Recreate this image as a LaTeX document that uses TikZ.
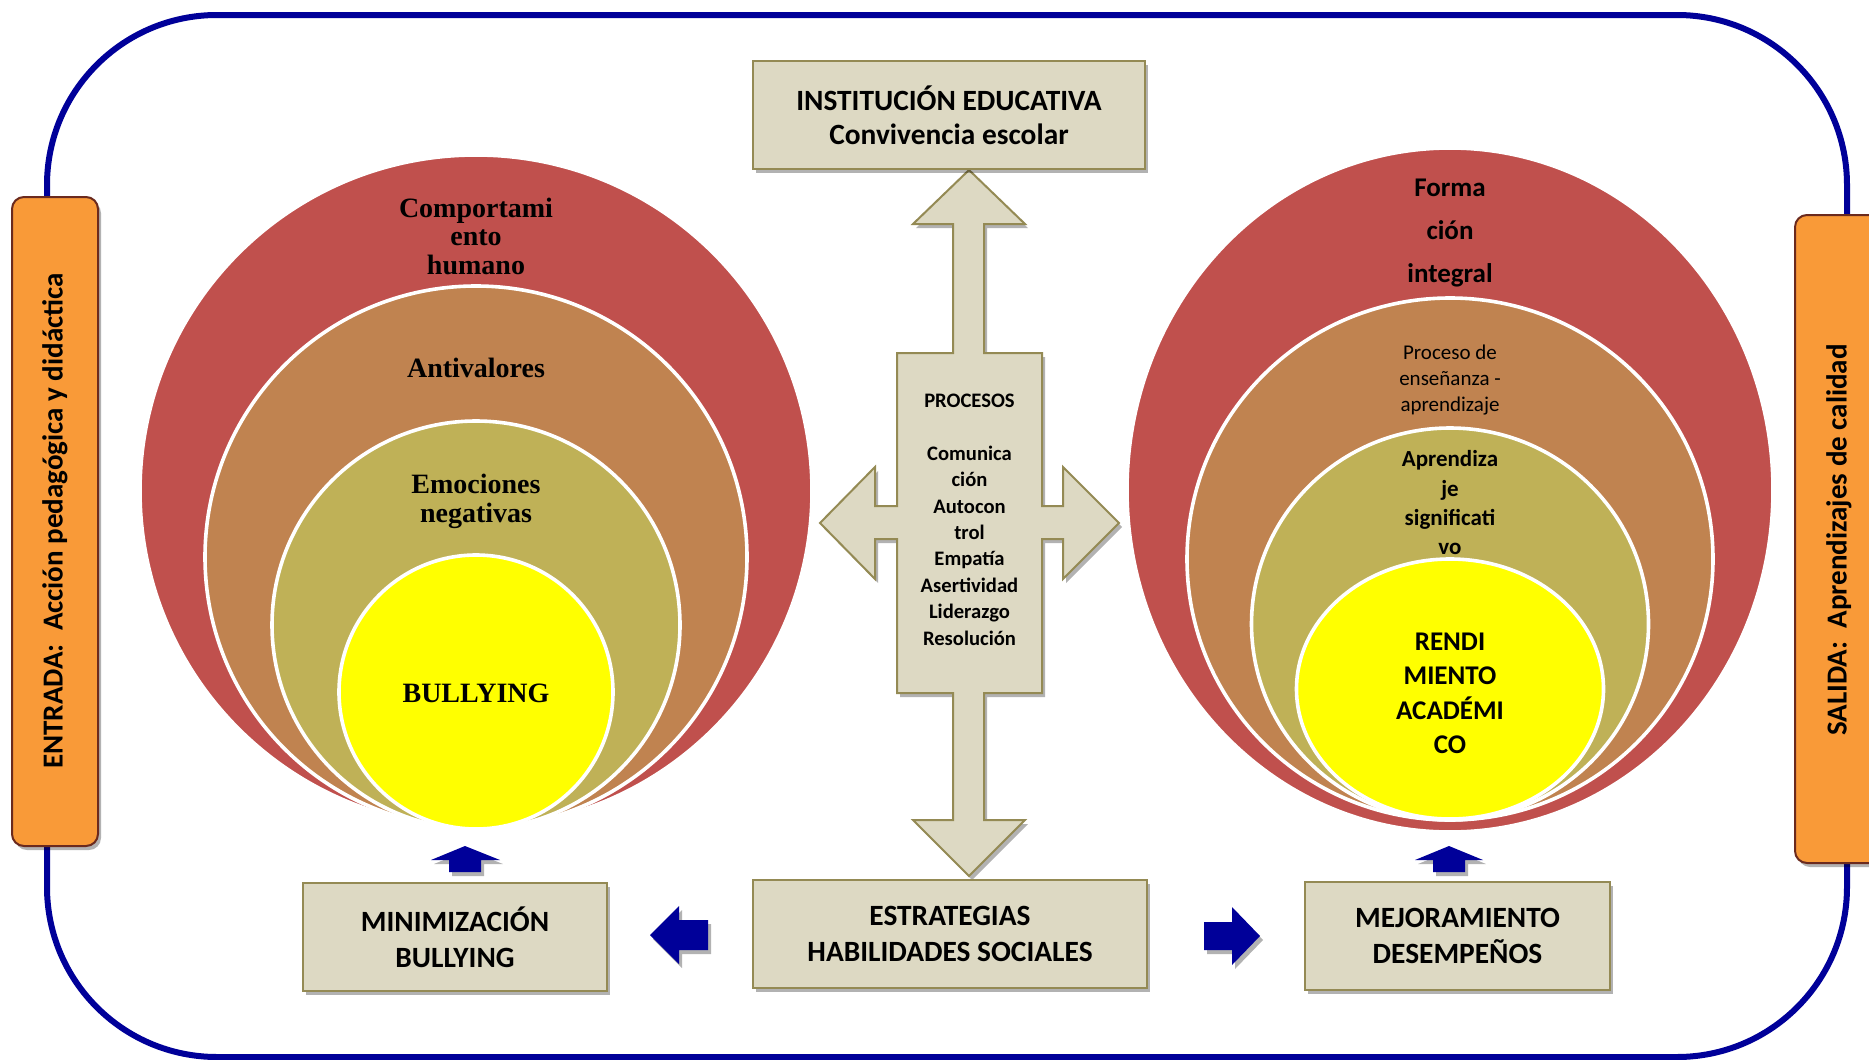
\documentclass[tikz,border=0pt]{standalone}
\usepackage{fontspec}
\setmainfont{Carlito}
\newfontfamily\serifb{Liberation Serif}
\usetikzlibrary{shadows}
\definecolor{framecol}{HTML}{000099}
\definecolor{orangefill}{HTML}{F99A38}
\definecolor{orangedraw}{HTML}{6B2A1E}
\definecolor{tanfill}{HTML}{DDD9C3}
\definecolor{tandraw}{HTML}{948A54}
\definecolor{redc}{HTML}{C0504D}
\definecolor{brownc}{HTML}{C08350}
\definecolor{olivec}{HTML}{BFB157}
\definecolor{yellowc}{HTML}{FFFF00}
\begin{document}
\begin{tikzpicture}[x=0.5pt,y=-0.5pt,
  softshadow/.style={drop shadow={shadow xshift=1.5pt,shadow yshift=-2pt,opacity=0.3,fill=black}},
  tanbox/.style={draw=tandraw,fill=tanfill,line width=1pt,softshadow,align=center,inner sep=0pt,
    font=\fontsize{14.7}{18}\selectfont\bfseries},
  sidebox/.style={draw=orangedraw,fill=orangefill,line width=1pt,rounded corners=6pt,softshadow},
  sidetext/.style={rotate=90,font=\fontsize{14.5}{16}\selectfont\bfseries},
  ring/.style={draw=white,line width=1.8pt},
  sertext/.style={align=center,font=\serifb\bfseries\fontsize{14}{14.3}\selectfont},
  blockarrow/.style={fill=framecol,softshadow},
  crossshape/.style={draw=tandraw,fill=tanfill,line width=1pt,softshadow,line join=miter}]
\useasboundingbox (0,0) rectangle (1869,1060);
\fill[white] (0,0) rectangle (1869,1060);

% outer frame
\draw[framecol,line width=3pt,rounded corners=85pt] (47,15) rectangle (1847,1057);

% side boxes
\draw[sidebox] (12,197) rectangle (98,846);
\node[sidetext] (entrada) at (55,521) {ENTRADA:\ \ Acción pedagógica y didáctica};
\draw[sidebox] (1795,215) rectangle (1885,863);
\node[sidetext] (salida) at (1839,540) {SALIDA:\ \ Aprendizajes de calidad};

% left nested circles
\fill[redc,ring] (476,491) circle[radius=168pt];
\fill[brownc,ring] (476,557) circle[radius=135.5pt];
\fill[olivec,ring] (476,625) circle[radius=102pt];
\fill[yellowc,ring] (476,692) circle[radius=68.5pt];
\node[sertext] (comp) at (476,240) {\strut Comportami\\ento\\humano\strut};
\node[sertext] (anti) at (476,372) {\strut Antivalores};
\node[sertext,font=\serifb\bfseries\fontsize{14}{14.5}\selectfont] (emo) at (476,502) {\strut Emociones\\negativas\strut};
\node[sertext,font=\serifb\bfseries\fontsize{14}{17}\selectfont] (bully) at (476,696) {\strut BULLYING};

% right nested circles
\fill[redc,ring] (1450,490) ellipse[x radius=161.5pt,y radius=171pt];
\fill[brownc,ring] (1450,559) ellipse[x radius=131.5pt,y radius=130.5pt];
\fill[olivec,ring] (1450,624) ellipse[x radius=99.25pt,y radius=98pt];
\fill[yellowc,ring] (1450,689) ellipse[x radius=76.75pt,y radius=65pt];
\node[align=center,font=\fontsize{13.5}{21.5}\selectfont\bfseries] (forma) at (1450,231) {\strut Forma\\ción\\integral\strut};
\node[align=center,font=\fontsize{10.5}{13}\selectfont] (proc2) at (1450,380) {\strut Proceso de\\enseñanza -\\aprendizaje\strut};
\node[align=center,font=\fontsize{11.5}{14.7}\selectfont\bfseries] (aprend) at (1450,505) {\strut Aprendiza\\je\\significati\\vo\strut};
\node[align=center,font=\fontsize{13.5}{17.25}\selectfont\bfseries] (rendi) at (1450,695) {\strut RENDI\\MIENTO\\ACADÉMI\\CO\strut};

% central cross arrow
\draw[crossshape] (969,170) -- (1025,224) -- (984,224) -- (984,353) -- (1042,353) -- (1042,506)
  -- (1063,506) -- (1063,467) -- (1119,523) -- (1063,579) -- (1063,539) -- (1042,539)
  -- (1042,693) -- (984,693) -- (984,820) -- (1025,820) -- (969,876) -- (913,820)
  -- (953,820) -- (953,693) -- (897,693) -- (897,539) -- (875,539) -- (875,579)
  -- (820,523) -- (875,467) -- (875,506) -- (897,506) -- (897,353) -- (953,353)
  -- (953,224) -- (913,224) -- cycle;
\node[align=center,font=\fontsize{10.3}{13.2}\selectfont\bfseries] (procesos) at (969.5,521)
  {\strut PROCESOS\\[13.2pt]Comunica\\ción\\Autocon\\trol\\Empatía\\Asertividad\\Liderazgo\\Resolución\strut};

% boxes
\node[tanbox,font=\fontsize{14.7}{17}\selectfont\bfseries,minimum width=196pt,minimum height=54pt] (inst) at (949,115) {INSTITUCIÓN EDUCATIVA\\Convivencia escolar};
\node[tanbox,minimum width=152pt,minimum height=54pt] (mini) at (455,937) {MINIMIZACIÓN\\BULLYING};
\node[tanbox,minimum width=197pt,minimum height=54pt] (estr) at (950,934) {ESTRATEGIAS\\HABILIDADES SOCIALES};
\node[tanbox,minimum width=152.5pt,minimum height=54pt] (mejo) at (1457.5,936) {MEJORAMIENTO\\DESEMPEÑOS};

% blue block arrows
\fill[blockarrow] (465,846) -- (500,860) -- (481,860) -- (481,872) -- (449,872) -- (449,860) -- (431,860) -- cycle;
\fill[blockarrow] (1449,846) -- (1483,860) -- (1465,860) -- (1465,872) -- (1433,872) -- (1433,860) -- (1415,860) -- cycle;
\fill[blockarrow] (650,935) -- (679,906) -- (679,920) -- (708,920) -- (708,950) -- (679,950) -- (679,964) -- cycle;
\fill[blockarrow] (1260,936) -- (1232,907) -- (1232,922) -- (1204,922) -- (1204,950) -- (1232,950) -- (1232,965) -- cycle;
\end{tikzpicture}
\end{document}
